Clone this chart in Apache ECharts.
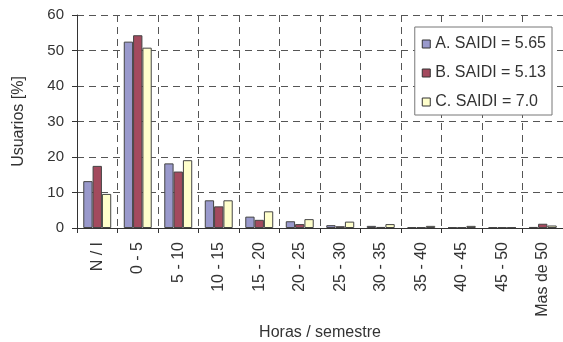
<!DOCTYPE html>
<html><head><meta charset="utf-8">
<script src="https://cdn.jsdelivr.net/npm/echarts@6/dist/echarts.min.js"></script>
<style>html,body{margin:0;padding:0;background:#fff}#c{width:563px;height:342px}</style>
</head><body><div id="c"></div>
<script>
const categories = ['N / I','0 - 5','5 - 10','10 - 15','15 - 20','20 - 25','25 - 30','30 - 35','35 - 40','40 - 45','45 - 50','Mas de 50'];
const seriesNames = ['A. SAIDI = 5.65','B. SAIDI = 5.13','C. SAIDI = 7.0'];
const valuesA = [13.2, 52.5, 18.2, 7.8, 3.2, 1.9, 0.8, 0.6, 0.2, 0.2, 0.2, 0.3];
const valuesB = [17.5, 54.3, 15.9, 6.1, 2.3, 1.1, 0.5, 0.3, 0.2, 0.2, 0.2, 1.2];
const valuesC = [9.6, 50.8, 19.1, 7.8, 4.7, 2.5, 1.8, 1.1, 0.6, 0.6, 0.2, 0.7];
const yTicks = [0, 10, 20, 30, 40, 50, 60];
const colors = ['#9999cc', '#a34a5e', '#ffffcc'];

const chart = echarts.init(document.getElementById('c'), null, {renderer: 'canvas'});
const font = 'Liberation Sans, Arial, sans-serif';
const dashed = {show: true, lineStyle: {color: '#555', type: [7, 5], width: 1}};
chart.setOption({
  animation: false,
  textStyle: {fontFamily: font},
  grid: {left: 77, right: 0, top: 15, bottom: 114, containLabel: false, outerBoundsMode: 'none'},
  legend: {
    show: true,
    data: seriesNames,
    orient: 'vertical',
    right: 11, top: 27,
    backgroundColor: '#fff',
    borderColor: '#777', borderWidth: 1,
    padding: [9, 6, 5, 7],
    itemGap: 13,
    itemWidth: 8, itemHeight: 8,
    icon: 'rect',
    textStyle: {fontFamily: font, fontSize: 16, color: '#333'},
    itemStyle: {borderColor: '#333', borderWidth: 1}
  },
  xAxis: {
    type: 'category',
    data: categories,
    name: 'Horas / semestre',
    nameLocation: 'middle',
    nameGap: 91,
    nameTextStyle: {fontFamily: font, fontSize: 16, color: '#333'},
    axisLine: {show: true, lineStyle: {color: '#333', width: 1}},
    axisTick: {show: true, alignWithLabel: false, interval: 0, length: 5, lineStyle: {color: '#333'}},
    axisLabel: {interval: 0, rotate: 90, margin: 14, fontFamily: font, fontSize: 16, color: '#333'},
    splitLine: Object.assign({interval: 0}, dashed)
  },
  yAxis: {
    type: 'value',
    min: yTicks[0], max: yTicks[yTicks.length - 1], interval: 10,
    name: 'Usuarios [%]',
    nameLocation: 'middle',
    nameGap: 50,
    nameRotate: 90,
    nameTextStyle: {fontFamily: font, fontSize: 16, color: '#333'},
    axisLine: {show: true, lineStyle: {color: '#333', width: 1}},
    axisTick: {show: true, length: 5, lineStyle: {color: '#333'}},
    axisLabel: {margin: 13, fontFamily: font, fontSize: 15, color: '#333'},
    splitLine: dashed
  },
  series: [valuesA, valuesB, valuesC].map((d, i) => ({
    name: seriesNames[i],
    type: 'bar',
    data: d,
    barGap: '0%',
    barCategoryGap: '31%',
    itemStyle: {color: colors[i], borderColor: '#444', borderWidth: 1}
  }))
});
</script></body></html>
